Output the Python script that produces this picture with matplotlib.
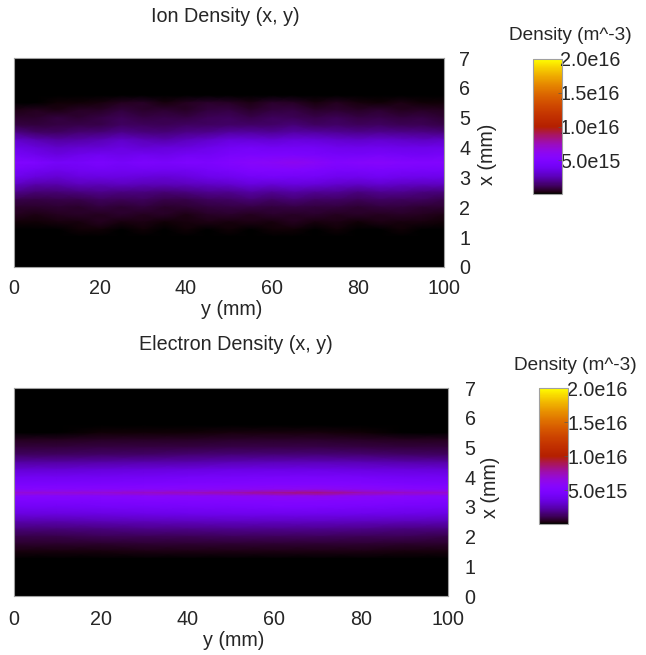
import matplotlib
matplotlib.use("Agg")
import matplotlib.pyplot as plt
import numpy as np

plt.rcParams['font.family'] = ['Liberation Sans', 'DejaVu Sans']

W, H = 646, 655
# density, in 1e15 m^-3
ion_y = [0, 5, 10, 15, 20, 25, 30, 35, 40, 45, 50, 55, 60, 65, 70, 75, 80, 85, 90, 95, 100]
ion_x = [7.0, 5.75, 5.5, 5.25, 5.0, 4.75, 4.5, 4.25, 4.0, 3.75, 3.5, 3.25, 3.0, 2.75, 2.5, 2.25, 2.0, 1.75, 1.5, 1.25, 1.0, 0.0]
ion_density = [
 [0]*21,
 [0.0]*21,
 [0.0,0.0,0.1,0.1,0.2,0.4,0.5,0.2,0.4,0.6,0.5,0.3,0.6,0.5,0.2,0.4,0.2,0.1,0.3,0.1,0.1],
 [0.3,0.4,0.3,0.5,0.5,0.8,0.6,0.7,0.5,0.8,0.9,0.6,0.8,0.9,0.6,0.7,0.5,0.7,0.4,0.5,0.4],
 [0.6,0.6,0.8,0.7,0.9,1.1,0.9,1.0,0.9,1.1,1.2,1.0,1.2,1.1,1.0,1.1,0.9,1.0,0.8,0.9,0.7],
 [0.9,0.8,0.9,1.0,1.0,1.3,1.2,1.1,1.3,1.3,1.4,1.4,1.4,1.6,1.3,1.4,1.2,1.3,1.1,1.1,1.0],
 [1.8,1.4,1.3,1.5,1.6,1.9,1.7,1.6,1.8,1.9,2.2,2.2,2.1,2.3,2.2,2.1,1.9,2.0,1.9,1.8,1.7],
 [3.0,2.5,2.2,2.3,2.5,2.9,2.6,2.4,2.7,3.0,3.4,3.3,3.2,3.4,3.3,3.1,2.9,3.1,2.9,2.8,2.9],
 [3.7,3.3,2.9,3.1,3.2,3.5,3.2,3.3,3.4,3.7,4.1,4.3,4.1,4.2,4.2,3.9,3.8,3.9,3.7,3.7,3.8],
 [4.3,3.9,3.5,3.8,4.0,3.8,4.0,3.8,4.2,4.2,4.6,4.8,4.7,4.7,4.6,4.4,4.3,4.5,4.3,4.2,4.4],
 [5.2,4.9,4.3,4.4,4.7,4.4,4.8,4.6,4.9,4.8,5.2,5.6,5.8,6.1,5.8,5.2,5.4,5.6,5.3,5.2,5.3],
 [4.5,4.1,3.8,4.0,4.2,4.0,4.1,4.0,4.0,4.3,4.6,5.0,5.0,5.1,4.9,4.6,4.6,4.7,4.6,4.5,4.5],
 [3.8,3.3,3.1,3.4,3.5,3.5,3.3,3.2,3.4,3.7,3.9,4.2,4.3,4.2,4.2,3.9,3.8,4.0,3.8,3.7,3.7],
 [2.8,2.3,2.3,2.6,2.5,2.7,2.5,2.5,2.6,2.8,2.9,3.3,3.1,3.3,3.2,2.9,2.8,3.0,2.8,2.7,2.7],
 [1.8,1.5,1.5,1.7,1.8,1.7,1.7,1.5,1.7,1.9,1.9,2.2,2.0,2.2,2.0,2.0,1.7,1.9,1.9,1.7,1.6],
 [1.0,0.9,1.0,1.0,1.2,1.1,1.2,1.0,1.0,1.2,1.3,1.5,1.3,1.5,1.3,1.3,1.1,1.3,1.2,1.2,1.0],
 [0.6,0.6,0.7,0.6,0.8,0.7,0.8,0.6,0.7,0.8,0.9,0.9,0.8,0.9,0.8,0.8,0.7,0.8,0.8,0.7,0.7],
 [0.4,0.3,0.4,0.5,0.4,0.6,0.4,0.5,0.3,0.5,0.6,0.4,0.6,0.5,0.6,0.4,0.5,0.4,0.5,0.4,0.3],
 [0.1,0.1,0.2,0.2,0.4,0.2,0.3,0.1,0.2,0.3,0.2,0.3,0.2,0.4,0.2,0.3,0.1,0.3,0.2,0.2,0.1],
 [0.0,0.0,0.0,0.1,0.1,0.0,0.1,0.0,0.1,0.0,0.1,0.0,0.1,0.1,0.0,0.1,0.0,0.0,0.1,0.0,0.0],
 [0.0]*21,
 [0]*21,
]

electron_y = [0, 10, 20, 30, 40, 50, 60, 70, 80, 90, 100]
electron_x = [7.0, 5.75, 5.5, 5.25, 5.0, 4.75, 4.5, 4.25, 4.0, 3.75, 3.58, 3.47, 3.36, 3.2, 3.0, 2.75, 2.5, 2.25, 2.0, 1.75, 1.5, 1.25, 0.0]
electron_density = [
 [0]*11,
 [0.0,0.0,0.0,0.0,0.0,0.0,0.0,0.0,0.0,0.0,0.0],
 [0.0,0.0,0.1,0.1,0.1,0.2,0.2,0.2,0.1,0.0,0.0],
 [0.4,0.4,0.5,0.5,0.5,0.6,0.6,0.6,0.5,0.4,0.4],
 [0.8,0.8,0.9,0.9,0.9,1.0,1.0,1.0,0.9,0.8,0.8],
 [1.3,1.3,1.4,1.4,1.5,1.6,1.6,1.6,1.5,1.4,1.3],
 [2.2,2.2,2.3,2.4,2.4,2.5,2.6,2.6,2.5,2.4,2.3],
 [3.2,3.2,3.3,3.4,3.5,3.6,3.6,3.6,3.5,3.4,3.3],
 [4.0,4.0,4.1,4.2,4.3,4.4,4.5,4.5,4.4,4.2,4.1],
 [4.7,4.7,4.8,4.9,5.0,5.1,5.2,5.2,5.1,4.9,4.8],
 [5.4,5.4,5.5,5.6,5.7,5.8,6.0,6.1,5.8,5.6,5.5],
 [6.8,6.8,6.9,7.2,7.4,7.6,8.2,8.4,7.6,7.2,7.0],
 [5.4,5.4,5.5,5.6,5.7,5.8,6.0,6.1,5.8,5.6,5.5],
 [4.8,4.8,4.9,5.0,5.1,5.2,5.3,5.3,5.2,5.0,4.9],
 [4.2,4.2,4.3,4.4,4.5,4.6,4.7,4.7,4.6,4.4,4.3],
 [3.4,3.4,3.5,3.6,3.7,3.8,3.8,3.8,3.7,3.6,3.5],
 [2.4,2.4,2.5,2.6,2.7,2.8,2.8,2.8,2.7,2.6,2.5],
 [1.6,1.6,1.7,1.8,1.8,1.9,1.9,1.9,1.8,1.7,1.7],
 [1.0,1.0,1.1,1.1,1.1,1.2,1.2,1.2,1.1,1.1,1.0],
 [0.6,0.6,0.6,0.7,0.7,0.7,0.7,0.7,0.7,0.6,0.6],
 [0.2,0.2,0.2,0.3,0.3,0.3,0.3,0.3,0.3,0.2,0.2],
 [0.0,0.0,0.0,0.0,0.0,0.0,0.0,0.0,0.0,0.0,0.0],
 [0]*11,
]

x_ticks = [0, 1, 2, 3, 4, 5, 6, 7]
y_ticks = [0, 20, 40, 60, 80, 100]
cbar_ticks = [5e15, 1e16, 1.5e16, 2e16]
cbar_labels = ['5.0e15', '1.0e16', '1.5e16', '2.0e16']
titles = ['Ion Density (x, y)', 'Electron Density (x, y)']

FS = 14.2
GRAY = '#a0a0a0'
TXT = '#262626'

fig = plt.figure(figsize=(W / 100, H / 100), dpi=100)

def box(l, t, r, b):
    return [l / W, 1 - b / H, (r - l) / W, (b - t) / H]

def panel(ax_box, cax_box, ys, xs, vals, title, title_xy, cbar_title_xy, xlabel_y, ylabel_xy, rpad, bpad, cpad):
    ax = fig.add_axes(box(*ax_box))
    Y, X = np.meshgrid(ys, xs)
    m = ax.pcolormesh(Y, X, np.array(vals) * 1e15, shading='gouraud', cmap='gnuplot',
                      vmin=0, vmax=2e16, rasterized=True)
    ax.set_xlim(0, 100)
    ax.set_ylim(0, 7)
    ax.set_xticks(y_ticks)
    ax.set_yticks(x_ticks)
    ax.yaxis.tick_right()
    ax.tick_params(length=0, labelsize=FS, labelcolor=TXT)
    ax.tick_params(axis='x', pad=bpad)
    ax.tick_params(axis='y', pad=rpad)
    for s in ax.spines.values():
        s.set_color(GRAY)
        s.set_linewidth(0.8)
    fig.text(title_xy[0] / W, 1 - title_xy[1] / H, title, ha='center', va='center', fontsize=FS, color=TXT)
    fig.text((ax_box[0] + ax_box[2]) / 2 / W + 0.004, 1 - xlabel_y / H, 'y (mm)', ha='center', va='center', fontsize=FS, color=TXT)
    fig.text(ylabel_xy[0] / W, 1 - ylabel_xy[1] / H, 'x (mm)', rotation=90, ha='center', va='center', fontsize=FS, color=TXT)

    cax = fig.add_axes(box(*cax_box))
    cb = fig.colorbar(m, cax=cax)
    cb.set_ticks(cbar_ticks)
    cb.set_ticklabels(cbar_labels)
    cb.outline.set_edgecolor(GRAY)
    cb.outline.set_linewidth(0.8)
    cax.tick_params(direction='in', length=3, width=0.5, color='#555555', labelsize=FS, labelcolor=TXT, pad=cpad)
    for lab in cax.get_yticklabels():
        lab.set_ha('right')
    fig.text(cbar_title_xy[0] / W, 1 - cbar_title_xy[1] / H, 'Density (m^-3)', ha='center', va='center', fontsize=13.7, color=TXT)

panel((14, 58, 444, 267), (533, 59, 562, 194), ion_y, ion_x, ion_density, titles[0],
      (225, 16), (570, 36), 309, (487, 154), 11, 9, 42)
panel((14, 388, 448, 596), (539, 388, 568, 524), electron_y, electron_x, electron_density, titles[1],
      (236, 344), (575, 365), 641, (491, 487), 12, 10, 43)

fig.savefig('out.png', dpi=100)
